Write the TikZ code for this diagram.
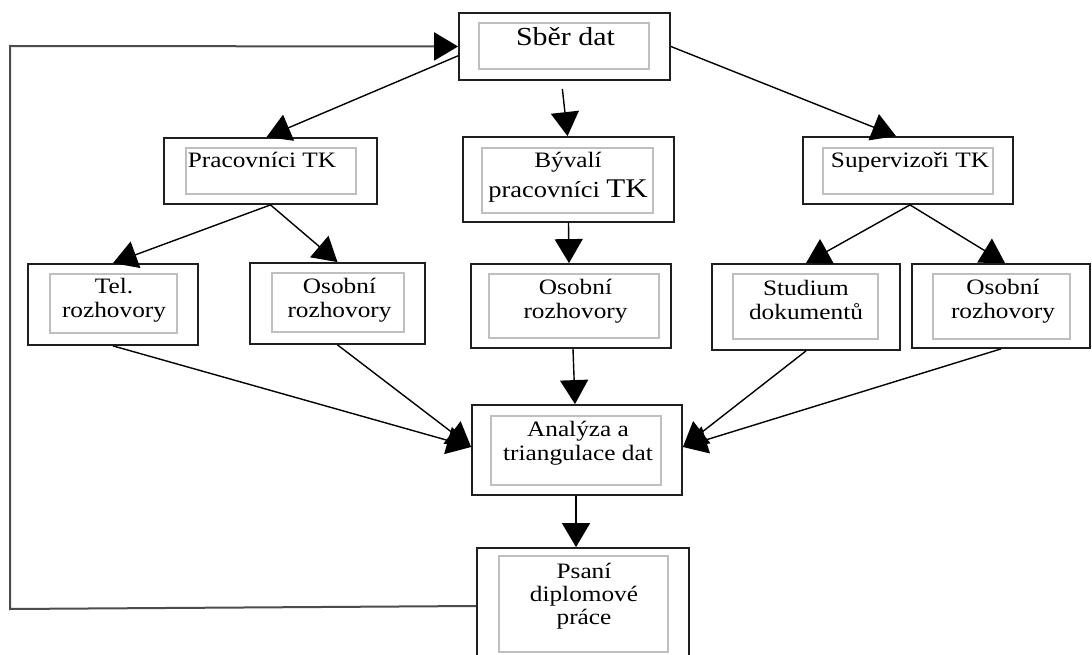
\documentclass[tikz,border=0pt]{standalone}
\usepackage{fontspec}
\setmainfont{Liberation Serif}[FakeStretch=1.15]
\usetikzlibrary{arrows.meta,calc}
\begin{document}
\begin{tikzpicture}[x=1pt,y=-1pt,
  outer/.style={draw=black!88, line width=1.8pt, inner sep=0pt},
  innerbox/.style={draw=black!25, line width=1.2pt, inner sep=0pt},
  lbl/.style={inner sep=0pt, anchor=north, align=center, font=\fontsize{22}{24}\selectfont, text=black},
  arr/.style={draw=black, line width=1.4pt, -{Triangle[length=24pt,width=28pt]}},
  back/.style={draw=black!70, line width=2pt, -{Triangle[length=24pt,width=28pt,color=black]}},
]
\clip (0,0) rectangle (1092,655);
\fill[white] (0,0) rectangle (1092,655);

% outer boxes
\node[outer, minimum width=211pt, minimum height=67pt] (sber) at (564.5,46.5) {};
\node[outer, minimum width=213pt, minimum height=66pt] (prac) at (270.5,171) {};
\node[outer, minimum width=211pt, minimum height=85pt] (byv) at (568.5,179.5) {};
\node[outer, minimum width=210pt, minimum height=67pt] (sup) at (908,170.5) {};
\node[outer, minimum width=170pt, minimum height=81pt] (tel) at (113,304.5) {};
\node[outer, minimum width=175pt, minimum height=81pt] (os1) at (337.5,303.5) {};
\node[outer, minimum width=200pt, minimum height=84pt] (os2) at (571,306) {};
\node[outer, minimum width=188pt, minimum height=86pt] (stud) at (806,307) {};
\node[outer, minimum width=178pt, minimum height=84pt] (os3) at (1001,306) {};
\node[outer, minimum width=210pt, minimum height=90pt] (ana) at (577,450) {};
\node[outer, minimum width=212pt, minimum height=116pt] (psani) at (583,606) {};

% inner grey frames
\node[innerbox, minimum width=170pt, minimum height=46pt] (sber-i) at (564,46) {};
\node[innerbox, minimum width=170pt, minimum height=46pt] (prac-i) at (271,171) {};
\node[innerbox, minimum width=171pt, minimum height=65pt] (byv-i) at (567.5,180.5) {};
\node[innerbox, minimum width=170pt, minimum height=46pt] (sup-i) at (908,171) {};
\node[innerbox, minimum width=127pt, minimum height=59pt] (tel-i) at (113.5,303.5) {};
\node[innerbox, minimum width=132pt, minimum height=59pt] (os1-i) at (338,302.5) {};
\node[innerbox, minimum width=170pt, minimum height=64pt] (os2-i) at (574,306) {};
\node[innerbox, minimum width=145pt, minimum height=65pt] (stud-i) at (805.5,306.5) {};
\node[innerbox, minimum width=137pt, minimum height=65pt] (os3-i) at (1001.5,306.5) {};
\node[innerbox, minimum width=170pt, minimum height=69pt] (ana-i) at (576,450.5) {};
\node[innerbox, minimum width=169pt, minimum height=96pt] (psani-i) at (583.5,604) {};

% texts
\node[lbl, font=\fontsize{26}{30}\selectfont] (sber-t) at (565.5,27) {Sběr dat};
\node[lbl] (prac-t) at (262,152) {Pracovníci TK};
\node[lbl, font=\fontsize{22}{30}\selectfont] (byv-t) at (568,152) {Bývalí\\{\fontsize{23}{30}\selectfont pracovníci} {\fontsize{27}{30}\selectfont TK}};
\node[lbl] (sup-t) at (910,152) {Supervizoři TK};
\node[lbl] (tel-t) at (114,278) {Tel.\\rozhovory};
\node[lbl] (os1-t) at (339.5,278) {Osobní\\rozhovory};
\node[lbl] (os2-t) at (575.5,279) {Osobní\\rozhovory};
\node[lbl] (stud-t) at (806,280) {Studium\\dokumentů};
\node[lbl] (os3-t) at (1003,279) {Osobní\\rozhovory};
\node[lbl] (ana-t) at (578,421) {Analýza a\\triangulace dat};
\node[lbl, font=\fontsize{22}{23}\selectfont] (psani-t) at (584,563) {Psaní\\diplomové\\práce};

% helper coordinates
\coordinate (fb1) at (10,609);
\coordinate (fb2) at (10,46);
\coordinate (anab) at ($(ana.south)+(-1,0)$);
\coordinate (psanit) at (anab |- psani.north);

% connectors
\draw[arr] (sber.185) -- ($(prac.north)+(-4,0)$);
\draw[arr, shorten <=8pt] ($(sber.south)+(-3,0)$) -- ($(byv.north)+(-1,0)$);
\draw[arr] (sber.east) -- ($(sup.north)+(-12,0)$);
\draw[arr] (prac.south) -- (tel.north);
\draw[arr] (prac.south) -- (os1.north);
\draw[arr] (byv.south) -- ($(os2.north)+(-2,0)$);
\draw[arr] ($(sup.south)+(2,0)$) -- (stud.north);
\draw[arr] ($(sup.south)+(2,0)$) -- ($(os3.north)+(4,0)$);
\draw[arr] (tel.south) -- ($(ana.west)+(0,-3)$);
\draw[arr] (os1.south) -- ($(ana.west)+(0,-3)$);
\draw[arr] ($(os2.south)+(2,0)$) -- ($(ana.north)+(-2,0)$);
\draw[arr] (stud.south) -- ($(ana.east)+(0,-3)$);
\draw[arr] (os3.south) -- ($(ana.east)+(0,-3)$);
\draw[arr] (anab) -- (psanit);
\draw[back] (psani.west) -- (fb1) -- (fb2) -- (sber.west);
\end{tikzpicture}
\end{document}
